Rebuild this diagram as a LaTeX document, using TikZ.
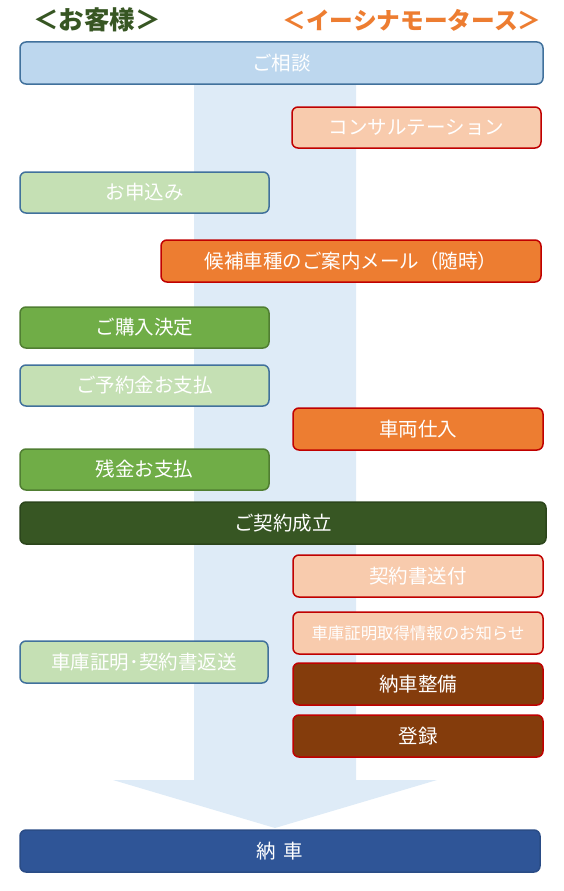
\documentclass[tikz,border=0pt]{standalone}
\usepackage{fontspec}
\setmainfont{Noto Sans CJK JP}
\definecolor{arrowc}{HTML}{DEEBF7}
\definecolor{bluefill}{HTML}{BDD7EE}
\definecolor{blueline}{HTML}{41719C}
\definecolor{peach}{HTML}{F8CBAD}
\definecolor{redline}{HTML}{C00000}
\definecolor{lgreen}{HTML}{C5E0B4}
\definecolor{orangec}{HTML}{ED7D31}
\definecolor{mgreen}{HTML}{70AD47}
\definecolor{mgreenline}{HTML}{507E32}
\definecolor{dgreen}{HTML}{375623}
\definecolor{dgreenline}{HTML}{2B451B}
\definecolor{brownc}{HTML}{843C0C}
\definecolor{navy}{HTML}{2F5597}
\definecolor{navyline}{HTML}{2A4C86}
\begin{document}
\begin{tikzpicture}[x=1pt,y=-1pt,
  box/.style={rectangle,rounded corners=6pt,line width=1.5pt,text=white,
    font=\fontsize{19.5}{21}\selectfont,inner sep=0pt},
  bluebox/.style={box,fill=bluefill,draw=blueline},
  peachbox/.style={box,fill=peach,draw=redline},
  lgbox/.style={box,fill=lgreen,draw=blueline},
  orbox/.style={box,fill=orangec,draw=redline},
  mgbox/.style={box,fill=mgreen,draw=mgreenline},
  dgbox/.style={box,fill=dgreen,draw=dgreenline},
  brbox/.style={box,fill=brownc,draw=redline},
  navybox/.style={box,fill=navy,draw=navyline},
  hdr/.style={inner sep=0pt}]
\useasboundingbox (0,0) rectangle (563,891);
% big flow arrow
\fill[arrowc] (194,60) -- (356,60) -- (356,780) -- (437,780) -- (275,828) -- (113,780) -- (194,780) -- cycle;
% headers
\node[hdr,text=dgreen,font=\fontsize{25.5}{28}\selectfont\bfseries] (hc) at (97,20) {＜お客様＞};
\node[hdr,text=orangec,font=\fontsize{23.7}{26}\selectfont\bfseries] (hs) at (412,20) {＜イーシナモータース＞};
% boxes
\node[bluebox,minimum width=523,minimum height=42] (n1) at (281.5,63) {ご相談};
\node[peachbox,minimum width=249,minimum height=41] (n2) at (416.5,127.5) {コンサルテーション};
\node[lgbox,minimum width=249,minimum height=41] (n3) at (144.5,192.5) {お申込み};
\node[orbox,minimum width=380,minimum height=42] (n4) at (351,261) {候補車種のご案内メール（随時）};
\node[mgbox,minimum width=249,minimum height=41] (n5) at (144.5,327.5) {ご購入決定};
\node[lgbox,minimum width=249,minimum height=41] (n6) at (144.5,385.5) {ご予約金お支払};
\node[orbox,minimum width=250,minimum height=42] (n7) at (418,429) {車両仕入};
\node[mgbox,minimum width=249,minimum height=41] (n8) at (144.5,469.5) {残金お支払};
\node[dgbox,minimum width=526,minimum height=42] (n9) at (283,523) {ご契約成立};
\node[peachbox,minimum width=250,minimum height=42] (n10) at (418,576) {契約書送付};
\node[peachbox,minimum width=250,minimum height=42,font=\fontsize{16.4}{18}\selectfont] (n11) at (418,633) {車庫証明取得情報のお知らせ};
\node[lgbox,minimum width=248,minimum height=42] (n12) at (144,662) {車庫証明･契約書返送};
\node[brbox,minimum width=250,minimum height=42] (n13) at (418,684) {納車整備};
\node[brbox,minimum width=250,minimum height=42] (n14) at (418,736) {登録};
\node[navybox,minimum width=520,minimum height=42] (n15) at (280,851) {納\hspace{0.4em}車};
\end{tikzpicture}
\end{document}
